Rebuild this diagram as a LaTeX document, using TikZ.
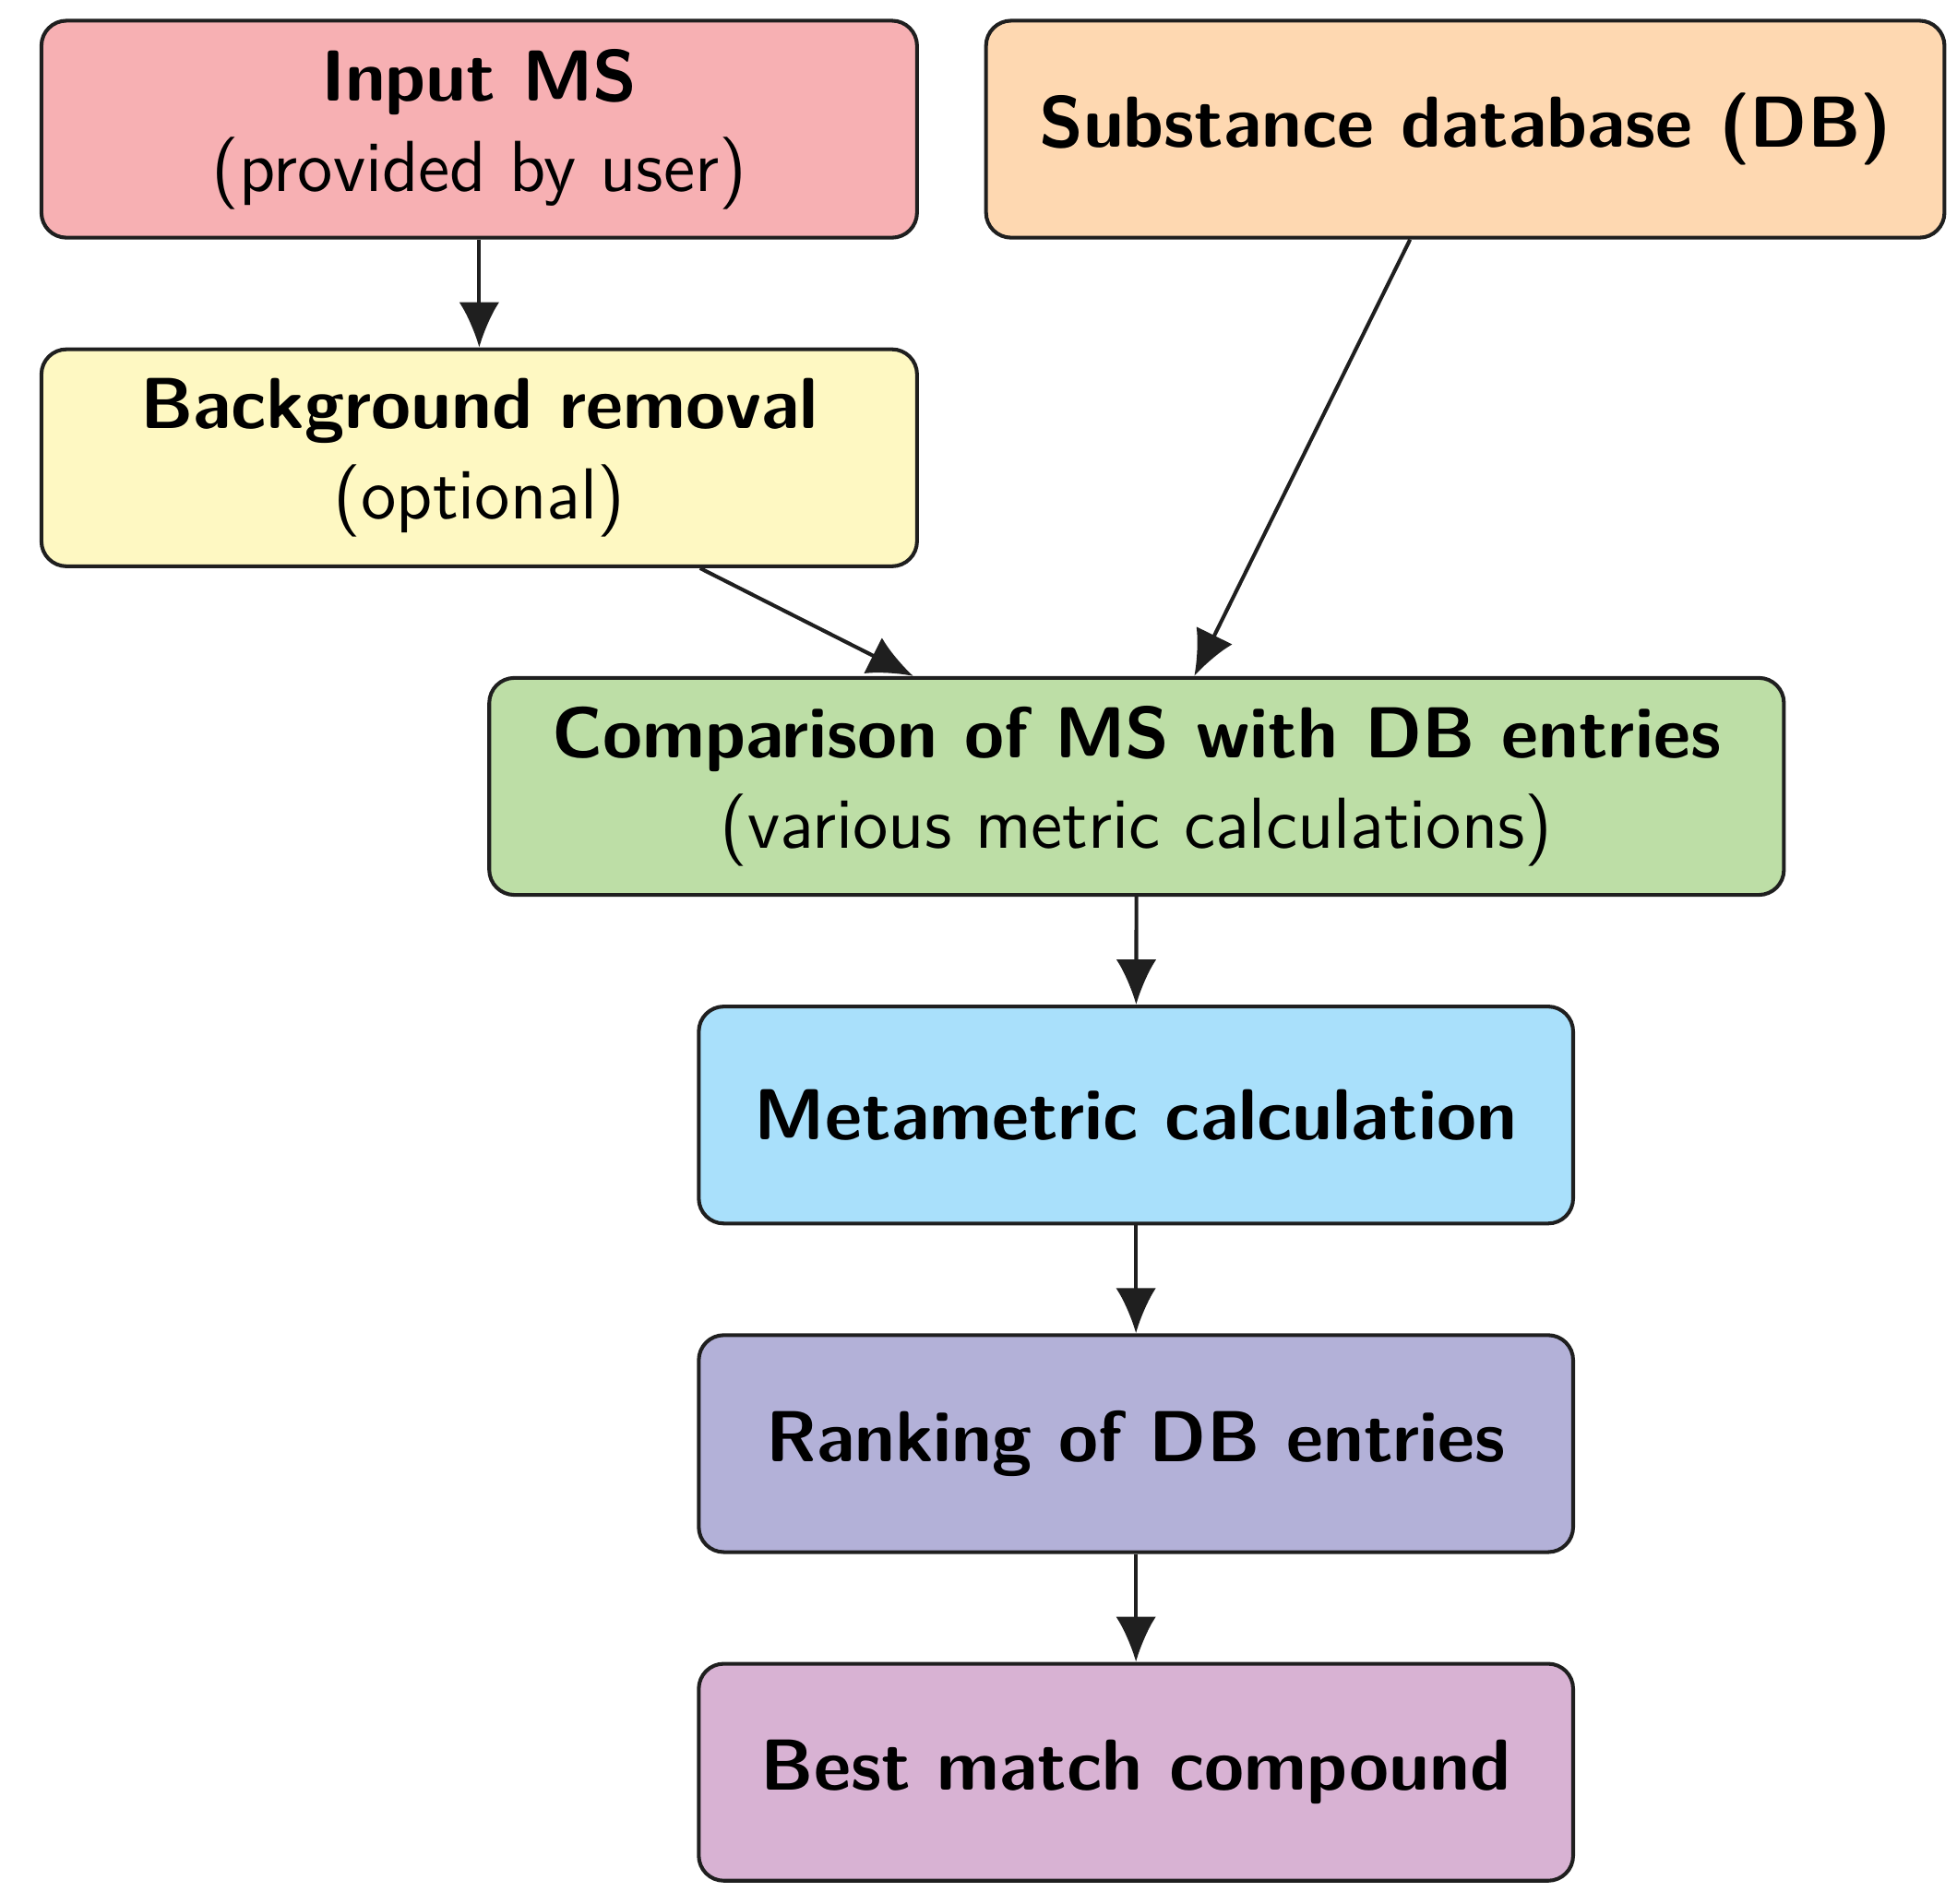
\documentclass[tikz,border=0pt]{standalone}
\usetikzlibrary{arrows.meta}
\begin{document}
\begin{tikzpicture}[x=0.25pt,y=-0.25pt,
  box/.style={draw=black!88,line width=0.75pt,rounded corners=5pt,inner sep=0pt,align=center,font=\sffamily\Large},
  arr/.style={draw=black!88,line width=0.75pt,-{Latex[length=9pt,width=8pt]}}]
\useasboundingbox (0,0) rectangle (1560,1518);
\definecolor{cA}{HTML}{F7B0B3}\definecolor{cB}{HTML}{FED8B1}\definecolor{cC}{HTML}{FEF8C2}
\definecolor{cD}{HTML}{BDDEA6}\definecolor{cE}{HTML}{A9E0FB}\definecolor{cF}{HTML}{B3B1D8}\definecolor{cG}{HTML}{D8B2D3}
\node[box,fill=cA,minimum width=174.5pt,minimum height=43.25pt] (in) at (382,103) {\textbf{Input MS}\\(provided by user)};
\node[box,fill=cB,minimum width=191pt,minimum height=43.25pt] (db) at (1168,103) {\textbf{Substance database (DB)}};
\node[box,fill=cC,minimum width=174.5pt,minimum height=43.25pt] (bg) at (382,365) {\textbf{Background removal}\\(optional)};
\node[box,fill=cD,minimum width=258pt,minimum height=43.25pt] (cmp) at (906,627) {\textbf{Comparison of MS with DB entries}\\(various metric calculations)};
\node[box,fill=cE,minimum width=174.25pt,minimum height=43.25pt] (mm) at (905.5,889) {\textbf{Metametric calculation}};
\node[box,fill=cF,minimum width=174.25pt,minimum height=43.25pt] (rk) at (905.5,1151) {\textbf{Ranking of DB entries}};
\node[box,fill=cG,minimum width=174.25pt,minimum height=43.25pt] (bm) at (905.5,1413) {\textbf{Best match compound}};
\draw[arr] (in) -- (bg);
\draw[arr] (bg.south -| 558,0) -- (cmp.north -| 728,0);
\draw[arr] (db.south -| 1124,0) -- (cmp.north -| 952,0);
\draw[arr] (cmp) -- (mm);
\draw[arr] (mm) -- (rk);
\draw[arr] (rk) -- (bm);
\end{tikzpicture}
\end{document}
